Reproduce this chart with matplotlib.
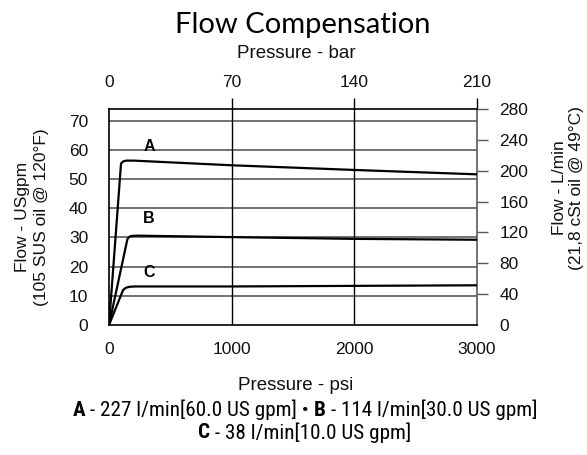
import matplotlib
matplotlib.use("Agg")
import matplotlib.pyplot as plt
from matplotlib import font_manager

# ---------------- data ----------------
psi_A = [0, 98, 115, 140, 200, 1000, 2000, 3000]
gpm_A = [0, 55.3, 56.0, 56.3, 56.3, 54.7, 53.1, 51.6]

psi_B = [0, 150, 165, 185, 230, 1000, 2000, 3000]
gpm_B = [0, 29.4, 30.2, 30.5, 30.6, 30.1, 29.5, 29.2]

psi_C = [0, 115, 140, 170, 210, 1000, 2000, 3000]
gpm_C = [0, 12.0, 12.8, 13.1, 13.2, 13.2, 13.4, 13.6]

curve_names = ["A", "B", "C"]
label_psi = [326, 326, 326]
label_gpm = [61.3, 36.6, 17.9]

psi_ticks = [0, 1000, 2000, 3000]
bar_ticks = [0, 70, 140, 210]
gpm_ticks = [0, 10, 20, 30, 40, 50, 60, 70]
lpm_ticks = [0, 40, 80, 120, 160, 200, 240, 280]

legend_line1 = [("A", True), (" - 227 l/min[60.0 US gpm] • ", False),
                ("B", True), (" - 114 l/min[30.0 US gpm]", False)]
legend_line2 = [("C", True), (" - 38 l/min[10.0 US gpm]", False)]

LPM_PER_GPM = 3.785
BAR_PER_PSI = 210 / 3000

# ---------------- fonts ----------------
flist = font_manager.fontManager.ttflist
avail = {f.name for f in flist}
base_font = "Liberation Sans" if "Liberation Sans" in avail else "DejaVu Sans"
title_font = "Lato" if "Lato" in avail else base_font
cond = [f.name for f in flist
        if str(f.stretch) in ("condensed", "semi-condensed", "extra-condensed")
        or "Narrow" in f.name or "Condensed" in f.name]
narrow_font = None
for pref in ["Liberation Sans Narrow", "Roboto Condensed", "Open Sans Condensed",
             "Noto Sans Condensed", "DejaVu Sans Condensed"]:
    if pref in cond or pref in avail:
        narrow_font = pref
        break
if narrow_font is None and cond:
    narrow_font = cond[0]

plt.rcParams["font.family"] = [base_font, "DejaVu Sans"]

W, H = 587, 455
fig = plt.figure(figsize=(W / 100, H / 100), dpi=100)
ax = fig.add_axes([109 / W, 1 - 325 / H, (477 - 109) / W, (325 - 109) / H])

ax.set_xlim(0, 3000)
ax.set_ylim(0, 280 / LPM_PER_GPM)

# grid
for g in gpm_ticks[1:]:
    ax.axhline(g, color="#5a5a5a", lw=1.2, zorder=1)
for p in psi_ticks[1:-1]:
    ax.axvline(p, color="black", lw=1.0, zorder=1)

for xs, ys in [(psi_A, gpm_A), (psi_B, gpm_B), (psi_C, gpm_C)]:
    ax.plot(xs, ys, color="black", lw=1.6, zorder=3, solid_joinstyle="round")

for name, xp, yp in zip(curve_names, label_psi, label_gpm):
    ax.text(xp, yp, name, ha="center", va="center", fontsize=11.5,
            fontweight="bold", color="black")

for s in ["left", "top", "bottom"]:
    ax.spines[s].set_color("black")
    ax.spines[s].set_linewidth(1.2)
ax.spines["right"].set_color("#5a5a5a")
ax.spines["right"].set_linewidth(1.2)

ax.set_xticks(psi_ticks)
ax.set_xticklabels([str(t) for t in psi_ticks])
ax.set_yticks(gpm_ticks)
ax.set_yticklabels([str(t) for t in gpm_ticks])
ax.tick_params(axis="x", length=0, pad=12, labelsize=12.5, colors="#111111")
ax.tick_params(axis="y", length=0, pad=15, labelsize=12.5, colors="#111111")

# top axis (bar)
axt = ax.secondary_xaxis("top", functions=(lambda p: p * BAR_PER_PSI,
                                           lambda b: b / BAR_PER_PSI))
axt.set_xticks(bar_ticks)
axt.tick_params(axis="x", direction="out", length=8, width=1, pad=5.5,
                labelsize=12.5, labelcolor="#111111")
axt.spines["top"].set_visible(False)
for t in axt.xaxis.get_major_ticks()[:1]:
    t.tick1line.set_visible(False)
    t.tick2line.set_visible(False)

# right axis (L/min)
axr = ax.secondary_yaxis("right", functions=(lambda g: g * LPM_PER_GPM,
                                             lambda l: l / LPM_PER_GPM))
axr.set_yticks(lpm_ticks)
axr.tick_params(axis="y", direction="out", length=8, width=1, pad=8,
                labelsize=12.5, color="#5a5a5a", labelcolor="#111111")
axr.spines["right"].set_visible(False)
for t in axr.yaxis.get_major_ticks()[:1]:
    t.tick1line.set_visible(False)
    t.tick2line.set_visible(False)

# texts
fig.text(303 / W, 1 - 25 / H, "Flow Compensation", ha="center", va="center",
         fontsize=21, family=[title_font, "DejaVu Sans"])
fig.text(296 / W, 1 - 54 / H, "Pressure - bar", ha="center", va="center",
         fontsize=13.5, color="#111111")
fig.text(296 / W, 1 - 386 / H, "Pressure - psi", ha="center", va="center",
         fontsize=13.5, color="#111111")
fig.text(32 / W, 1 - 217 / H, "Flow - USgpm\n(105 SUS oil @ 120°F)",
         ha="center", va="center", rotation=90, fontsize=12.5,
         linespacing=1.3, color="#111111")
fig.text(568 / W, 1 - 188 / H, "Flow - L/min\n(21,8 cSt oil @ 49°C)",
         ha="center", va="center", rotation=90, fontsize=12.5,
         linespacing=1.15, color="#111111")

# legend lines composed of bold / regular pieces
leg_family = [narrow_font, "DejaVu Sans"] if narrow_font else [base_font, "DejaVu Sans"]
leg_size = 15.2 if narrow_font else 13.5
renderer = fig.canvas.get_renderer()


def place_line(segments, xc, yc):
    texts = []
    for s, bold in segments:
        t = fig.text(0, 1 - yc / H, s, ha="left", va="center",
                     fontsize=leg_size, family=leg_family,
                     fontweight="bold" if bold else "normal")
        texts.append(t)
    widths = [t.get_window_extent(renderer).width for t in texts]
    x = xc - sum(widths) / 2
    for t, w in zip(texts, widths):
        t.set_x(x / W)
        x += w


place_line(legend_line1, 305, 410)
place_line(legend_line2, 305, 433)

fig.savefig("out.png", dpi=100)
